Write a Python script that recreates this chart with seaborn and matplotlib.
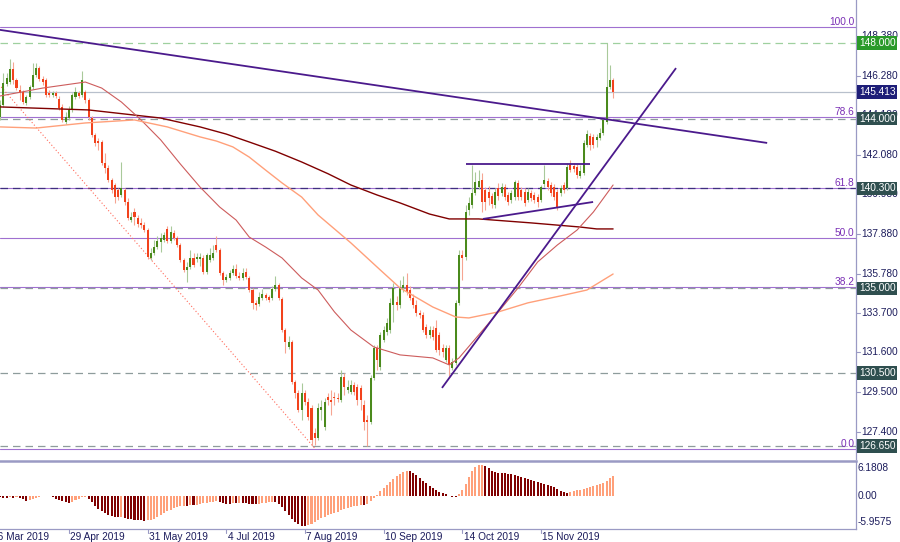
import numpy as np
import pandas as pd
import matplotlib
matplotlib.use("Agg")
import matplotlib.pyplot as plt
import seaborn as sns
from matplotlib.transforms import blended_transform_factory as blend

# ---------------- data (GBPJPY daily, 29 Mar 2019 - 17 Dec 2019) ----------------
opens = [
144.09, 144.72, 145.84, 145.94, 146.63, 146.05, 145.52, 145.41, 144.83, 145.15,
145.68, 146.31, 146.68, 146.10, 146.05, 145.36, 145.25, 145.36, 145.04, 144.62,
143.82, 144.03, 144.46, 145.15, 145.36, 145.25, 145.41, 144.99, 144.03, 143.13,
142.81, 142.76, 141.65, 141.38, 140.75, 140.48, 140.22, 139.95, 140.22, 139.58,
138.62, 139.05, 138.73, 138.46, 138.36, 138.09, 136.61, 136.87, 137.19, 137.46,
137.56, 138.15, 137.51, 137.93, 137.67, 137.30, 136.50, 135.97, 136.13, 136.61,
136.56, 136.56, 136.61, 135.87, 136.50, 136.61, 137.30, 137.03, 135.81, 135.44,
135.55, 135.81, 136.03, 135.65, 135.55, 135.87, 135.55, 134.91, 134.22, 134.17,
134.49, 134.65, 134.54, 134.49, 134.97, 135.18, 134.43, 132.79, 131.89, 132.15,
130.03, 129.45, 128.55, 129.45, 128.97, 128.66, 127.33, 127.07, 128.55, 127.65,
129.24, 129.08, 129.24, 129.19, 129.08, 130.30, 129.61, 129.50, 129.88, 129.77,
129.72, 128.81, 128.02, 127.91, 130.25, 131.84, 130.83, 132.26, 132.69, 132.79,
134.12, 134.28, 134.12, 135.02, 135.18, 134.91, 134.49, 134.12, 133.69, 133.59,
132.95, 132.53, 132.79, 132.90, 132.53, 131.84, 131.20, 131.84, 130.78, 131.04,
134.22, 136.77, 136.66, 139.15, 139.42, 140.06, 140.37, 140.75, 140.22, 140.11,
139.90, 139.42, 140.32, 140.06, 140.38, 139.95, 139.69, 139.84, 140.59, 140.22,
140.11, 139.69, 140.06, 139.95, 139.84, 139.69, 140.53, 140.69, 140.48, 140.38,
140.11, 140.06, 140.48, 140.32, 141.54, 141.49, 141.43, 140.96, 141.12, 142.60,
143.08, 143.03, 142.87, 142.97, 143.24, 143.82, 145.68, 146.05]

highs = [
144.99, 146.42, 146.42, 147.16, 147.00, 146.15, 145.78, 145.52, 145.25, 145.78,
146.95, 146.95, 146.79, 146.26, 146.15, 145.52, 145.46, 145.46, 145.20, 144.78,
144.35, 144.67, 145.36, 145.68, 145.46, 146.52, 145.52, 145.09, 144.14, 143.24,
142.97, 142.87, 142.18, 141.54, 140.85, 140.59, 140.32, 141.70, 140.32, 139.79,
139.05, 139.26, 138.89, 138.73, 138.52, 138.20, 137.14, 137.56, 137.78, 137.93,
137.99, 138.31, 138.31, 138.09, 137.78, 137.41, 136.61, 136.40, 137.03, 136.87,
136.87, 136.87, 136.77, 136.87, 137.14, 137.30, 137.78, 137.14, 135.92, 135.76,
135.97, 136.24, 136.29, 135.87, 136.08, 136.08, 135.65, 135.02, 134.38, 134.81,
134.97, 134.75, 134.65, 135.13, 135.65, 135.28, 134.54, 132.90, 132.47, 132.26,
130.14, 129.61, 129.98, 129.61, 129.19, 128.82, 127.60, 128.92, 129.08, 129.19,
129.45, 129.61, 129.50, 129.45, 130.67, 130.51, 130.14, 130.14, 130.03, 129.93,
129.88, 129.08, 128.29, 130.41, 131.99, 131.99, 132.69, 133.00, 133.43, 134.49,
135.28, 134.59, 135.44, 135.65, 135.81, 135.13, 134.70, 134.38, 133.85, 133.75,
133.11, 133.00, 133.00, 133.32, 132.69, 132.05, 131.99, 131.99, 131.31, 134.38,
137.03, 137.03, 139.42, 139.84, 141.54, 141.17, 141.28, 141.12, 140.38, 140.43,
140.06, 140.32, 140.59, 140.59, 140.53, 140.11, 140.22, 140.75, 140.75, 140.38,
140.32, 140.32, 140.22, 140.11, 140.00, 140.48, 141.54, 140.85, 140.64, 140.53,
140.27, 140.48, 140.64, 141.65, 141.81, 141.65, 141.59, 141.54, 142.87, 143.40,
143.24, 143.18, 143.18, 143.50, 144.03, 148.00, 146.84, 146.15]

lows = [
143.93, 144.62, 145.73, 145.84, 145.84, 145.52, 144.99, 144.78, 144.72, 145.04,
145.57, 146.21, 145.99, 145.78, 145.15, 145.15, 145.15, 145.09, 144.46, 143.82,
143.71, 143.93, 144.35, 145.04, 145.09, 145.15, 144.83, 143.93, 143.03, 142.55,
142.34, 141.54, 141.12, 140.64, 140.06, 139.53, 139.69, 139.84, 139.42, 138.62,
138.52, 138.36, 138.25, 138.20, 137.99, 136.56, 136.50, 136.77, 137.09, 136.93,
137.46, 137.41, 137.41, 137.56, 137.19, 136.40, 135.87, 135.34, 136.03, 136.13,
136.40, 136.19, 135.76, 135.76, 136.40, 136.50, 136.93, 135.71, 135.18, 135.34,
135.44, 135.71, 135.55, 135.44, 135.44, 135.50, 134.81, 133.91, 133.85, 134.06,
134.38, 134.38, 134.28, 134.38, 134.86, 134.38, 132.69, 131.57, 131.78, 129.93,
129.19, 128.44, 128.02, 128.81, 128.02, 126.64, 126.69, 126.96, 128.02, 127.49,
128.81, 128.29, 128.81, 128.97, 128.97, 129.35, 129.45, 129.40, 129.35, 128.81,
128.55, 127.49, 126.65, 127.81, 130.14, 130.67, 130.67, 132.16, 132.53, 132.63,
133.22, 133.85, 133.96, 134.81, 134.65, 134.38, 133.96, 133.53, 133.43, 132.69,
132.37, 132.37, 132.26, 131.63, 131.47, 131.36, 131.09, 130.35, 130.67, 130.94,
134.12, 135.44, 136.50, 138.89, 139.26, 139.95, 140.27, 139.05, 139.15, 139.42,
139.26, 139.26, 139.69, 139.90, 139.69, 139.42, 139.53, 139.69, 139.69, 139.69,
139.37, 139.58, 139.63, 139.53, 139.31, 139.58, 140.38, 140.22, 139.90, 139.69,
139.15, 139.90, 140.06, 140.22, 141.17, 141.17, 140.85, 140.85, 141.01, 142.50,
142.34, 142.44, 142.50, 142.87, 143.13, 143.71, 145.57, 145.09]

closes = [
144.72, 145.89, 146.15, 146.63, 146.05, 145.62, 145.36, 144.88, 145.15, 145.68,
146.31, 146.68, 146.10, 145.94, 145.25, 145.25, 145.36, 145.20, 144.56, 143.93,
144.09, 144.46, 145.25, 145.41, 145.20, 146.05, 144.99, 144.09, 143.13, 142.71,
142.71, 141.65, 141.38, 140.75, 140.22, 139.84, 139.84, 140.32, 139.58, 138.73,
138.78, 138.78, 138.41, 138.36, 138.09, 136.66, 136.87, 137.19, 137.51, 137.67,
137.83, 137.51, 137.99, 137.67, 137.30, 136.50, 135.97, 136.13, 136.61, 136.24,
136.66, 136.66, 135.87, 136.77, 136.77, 136.87, 137.03, 135.81, 135.44, 135.60,
135.81, 136.03, 135.65, 135.55, 135.81, 135.60, 134.91, 134.22, 134.12, 134.54,
134.70, 134.49, 134.38, 134.97, 135.18, 134.49, 132.79, 132.15, 132.15, 130.03,
129.45, 128.55, 129.45, 128.97, 128.18, 126.96, 127.07, 128.66, 128.71, 128.97,
129.08, 128.97, 129.19, 129.13, 130.30, 129.77, 129.77, 129.88, 129.50, 129.08,
129.08, 127.91, 127.91, 130.25, 131.84, 131.20, 132.53, 132.79, 133.16, 134.22,
135.02, 134.12, 135.07, 135.18, 134.81, 134.49, 134.12, 133.69, 133.59, 132.79,
132.53, 132.79, 132.42, 131.73, 131.73, 131.63, 131.84, 130.94, 131.10, 134.22,
136.77, 136.61, 139.05, 139.53, 140.06, 140.64, 140.69, 139.58, 139.58, 139.79,
139.47, 140.11, 139.90, 140.38, 139.84, 139.58, 140.06, 140.64, 139.84, 139.84,
139.53, 140.11, 139.79, 139.69, 139.58, 140.38, 140.75, 140.38, 140.06, 139.84,
139.31, 140.32, 140.22, 141.43, 141.28, 141.33, 141.01, 141.22, 142.71, 143.18,
142.60, 142.60, 143.03, 143.24, 143.93, 145.68, 146.05, 145.413]

osma = [
-0.2, -0.3, -0.3, -0.2, -0.3, -0.2, -0.4, -0.6, -0.9, -0.8, -0.6, -0.4, -0.2,
0.0, 0.1, 0.0, -0.2, -0.5, -0.8, -1.0, -1.2, -1.3, -1.1, -0.8, -0.5, -0.2, -0.1,
-0.5, -1.2, -1.9, -2.5, -3.0, -3.4, -3.8, -4.0, -4.1,
-4.2, -4.1, -4.3, -4.5, -4.6, -4.7, -4.8, -4.8, -4.9, -4.8, -4.7, -4.5, -4.2,
-3.8, -3.4, -3.0, -2.7, -2.4, -2.2, -2.0, -1.9,
-1.9, -1.8, -1.8, -1.7, -1.5, -1.4, -1.3, -1.2, -1.1, -1.0,
-1.1, -1.3, -1.5, -1.5, -1.4, -1.4, -1.3, -1.3,
-1.4, -1.5, -1.6, -1.6, -1.5, -1.4, -1.3, -1.2, -1.1, -1.1,
-1.5, -2.2, -3.0, -3.7, -4.5, -5.2, -5.6, -5.9, -5.9575,
-5.8, -5.5, -5.2, -4.8, -4.4, -4.1,
-3.8, -3.5, -3.3, -3.1, -2.8, -2.6, -2.4, -2.2, -2.0, -1.9, -1.8, -1.8,
-1.5, -1.0, -0.4, 0.2,
0.9, 1.6, 2.2, 2.8, 3.4, 3.9, 4.4, 4.8, 5.0,
4.9, 4.6, 4.1, 3.5, 3.0, 2.5, 2.0, 1.6, 1.2, 0.8, 0.5, 0.3, 0.0, -0.2, -0.2,
0.4, 1.2, 2.4, 3.7, 4.9, 5.7, 6.1, 6.1808, 5.9, 5.5, 5.0,
4.7, 4.6, 4.5, 4.5, 4.4, 4.3, 4.2, 4.0, 3.8, 3.6, 3.4, 3.1, 2.9, 2.8, 2.5, 2.4, 2.2, 2.0, 1.7, 1.4,
1.0, 0.8, 0.6, 0.8, 0.9, 1.1, 1.2, 1.4, 1.5, 1.8, 2.0, 2.2, 2.4, 2.5, 3.0, 3.6, 4.0]

# moving averages read at sample bars
ma_slow_bar = [0, 27, 49, 61, 69, 76, 84, 92, 100, 107, 115, 122, 131, 137, 146, 162, 177, 182, 187]
ma_slow_val = [144.62, 144.46, 144.03, 143.56, 143.18, 142.76, 142.27, 141.70, 141.08, 140.48,
               139.95, 139.53, 138.94, 138.68, 138.68, 138.47, 138.25, 138.15, 138.15]
ma_mid_bar = [0, 13, 26, 31, 37, 43, 49, 55, 61, 67, 72, 76, 81, 86, 92, 97, 102, 107,
              114, 122, 132, 137, 140, 146, 152, 158, 164, 170, 176, 181, 187]
ma_mid_val = [145.20, 145.62, 145.94, 145.62, 144.88, 143.93, 142.87, 141.59, 140.37,
              139.31, 138.62, 137.72, 137.19, 136.61, 135.55, 134.91, 133.75, 132.79,
              131.89, 131.47, 131.31, 130.94, 131.31, 132.53, 133.75, 135.02, 136.40,
              137.30, 138.09, 139.05, 140.48]
ma_fast_bar = [0, 11, 26, 41, 51, 61, 66, 71, 76, 81, 86, 92, 97, 107, 116, 122, 132, 139,
               143, 152, 161, 171, 179, 187]
ma_fast_val = [143.56, 143.50, 143.77, 143.93, 143.56, 143.03, 142.81, 142.50, 141.96,
               141.27, 140.59, 139.84, 138.89, 137.41, 135.97, 135.02, 134.01, 133.48,
               133.43, 133.75, 134.23, 134.60, 134.91, 135.76]

fib_low, fib_high = 126.50, 148.87
fib_levels = [0.0, 38.2, 50.0, 61.8, 78.6, 100.0]
h_levels = [148.000, 144.000, 140.300, 135.000, 130.500, 126.650]
last_price = 145.413
price_ticks = [148.380, 146.280, 144.180, 142.080, 139.980, 137.880, 135.780,
               133.700, 131.600, 129.500, 127.400]
osma_ticks = [6.1808, 0.00, -5.9575]
osma_tick_text = ["6.1808", "0.00", "-5.9575"]
date_ticks = ["2019-03-26", "2019-04-29", "2019-05-31", "2019-07-04", "2019-08-07",
              "2019-09-10", "2019-10-14", "2019-11-15"]
date_labels = ["26 Mar 2019", "29 Apr 2019", "31 May 2019", "4 Jul 2019", "7 Aug 2019",
               "10 Sep 2019", "14 Oct 2019", "15 Nov 2019"]
start_date = "2019-03-29"

# trend lines (bar index, price)
trend_down = ([-1, 234.0], [148.73, 142.71])
trend_up = ([134.8, 206.2], [129.72, 146.68])
flag_top = ([142.1, 180.0], [141.59, 141.59])
flag_bot = ([147.3, 180.9], [138.68, 139.58])
fib_diag = ([-15.6, 96.1], [148.87, 126.50])

n = len(closes)
assert len(opens) == n and len(highs) == n and len(lows) == n and len(osma) == n
idx = np.arange(n)

# ---------------- styling ----------------
sns.set_theme(style="white")
plt.rcParams["font.family"] = ["Liberation Sans", "DejaVu Sans"]
W, H = 900, 542
FS = 7.3
TXT = "#1c1c5c"
AX = "#9a9ac4"

fig = plt.figure(figsize=(9, 5.42), dpi=100)
fig.patch.set_facecolor("white")
ax = fig.add_axes([0, 1 - 459 / H, 856 / W, 459 / H])
ax2 = fig.add_axes([0, 1 - 529 / H, 856 / W, 68 / H])
XL = (-0.03, 261.1)
YL = (125.95, 150.29)
for a in (ax, ax2):
    a.set_facecolor("white")
    a.set_xticks([])
    a.set_yticks([])
    for s in a.spines.values():
        s.set_visible(False)
ax.spines["right"].set_visible(True)
ax.spines["right"].set_color(AX)
ax.spines["right"].set_linewidth(0.9)
for s, lw in (("right", 0.9), ("top", 1.8), ("bottom", 0.9)):
    ax2.spines[s].set_visible(True)
    ax2.spines[s].set_color(AX)
    ax2.spines[s].set_linewidth(lw)

# ---------------- horizontal levels ----------------
fib_color = "#a070d0"
for lv in fib_levels:
    p = fib_low + (fib_high - fib_low) * lv / 100.0
    ax.axhline(p, color=fib_color, lw=0.8, zorder=1)
    ax.text(1 - 1.5 / 856, p, f"{lv:.1f}", transform=blend(ax.transAxes, ax.transData),
            ha="right", va="bottom", fontsize=FS, color="#7a2fb5", zorder=6)
lvl_colors = {148.000: "#9fd09f", 140.300: "#3f2f80"}
for p in h_levels:
    ax.axhline(p, color=lvl_colors.get(p, "#8e9c9c"), lw=0.9, ls=(0, (6, 4)), zorder=2)
ax.axhline(last_price, color="#b8c0cc", lw=0.9, zorder=2)
ax.plot(fib_diag[0], fib_diag[1], color="#ff6a5a", lw=0.8, ls=(0, (1, 2)), zorder=2)

# ---------------- candles ----------------
o = np.array(opens); c = np.array(closes); hi = np.array(highs); lo = np.array(lows)
up = c >= o
wick_cols = np.where(up, "#a9c99a", "#f6a592")
body_cols = np.where(up, "#4a8a1c", "#f2421c")
ax.vlines(idx, lo, hi, colors=wick_cols, lw=0.8, zorder=3)
bh = c - o
bh = np.where(np.abs(bh) < 0.05, np.where(up, 0.05, -0.05), bh)
ax.bar(idx, bh, bottom=o, width=0.62, color=body_cols, linewidth=0, zorder=4)

# ---------------- moving averages (seaborn) ----------------
for bars, vals, col, lw in ((ma_slow_bar, ma_slow_val, "#800000", 1.0),
                            (ma_mid_bar, ma_mid_val, "#cd5c5c", 0.8),
                            (ma_fast_bar, ma_fast_val, "#ffa07a", 1.0)):
    df = pd.DataFrame({"bar": bars, "price": vals})
    sns.lineplot(data=df, x="bar", y="price", ax=ax, color=col, lw=lw, zorder=5,
                 estimator=None, sort=False)
ax.set_xlabel(""); ax.set_ylabel("")

# ---------------- trend lines ----------------
for xs, ys in (trend_down, trend_up, flag_top, flag_bot):
    ax.plot(xs, ys, color="#4b1a8c", lw=1.3, zorder=6, solid_capstyle="butt")
ax.set_xlim(*XL); ax.set_ylim(*YL)

# ---------------- OsMA histogram ----------------
v = np.array(osma)
rising = np.concatenate([[False], np.diff(v) > 0])
hcols = np.where(rising, "#ffa07a", "#800000")
ax2.bar(idx, v, width=0.62, color=hcols, linewidth=0, zorder=3)
ax2.set_xlim(*XL)
ax2.set_ylim(-6.57, 6.97)

# ---------------- right axis labels ----------------
tr = blend(ax.transAxes, ax.transData)
for p in price_ticks:
    ax.plot([1.0, 1.0 + 4 / 856], [p, p], color=AX, lw=0.8, transform=tr, clip_on=False)
    ax.text(1 + 5 / 856, p, f"{p:.3f}", transform=tr, ha="left", va="center",
            fontsize=FS, color=TXT, clip_on=False, zorder=7)
box_cols = {148.000: "#2a9a2a", 145.413: "#1e1e78"}
for p in h_levels + [last_price]:
    ax.text(1 + 3 / 856, p, f"{p:.3f}", transform=tr, ha="left", va="center",
            fontsize=FS, color="white", clip_on=False, zorder=9,
            bbox=dict(boxstyle="square,pad=0.18", fc=box_cols.get(p, "#2f4f4f"), ec="none"))

tr2 = blend(ax2.transAxes, ax2.transData)
for val, t, dy in zip(osma_ticks, osma_tick_text, (-2.5, 0, 2.5)):
    ax2.annotate(t, xy=(1 + 2 / 856, val), xycoords=tr2, xytext=(0, dy),
                 textcoords="offset points", ha="left", va="center", fontsize=FS,
                 color=TXT, annotation_clip=False)

# ---------------- date axis ----------------
trd = blend(ax2.transData, fig.transFigure)
trt = blend(ax2.transData, ax2.transAxes)
for d, lab in zip(date_ticks, date_labels):
    j = int(np.busday_count(start_date, d)) if d >= start_date else -int(np.busday_count(d, start_date))
    ax2.plot([j, j], [0, -4 / 68], color=AX, lw=0.8, transform=trt, clip_on=False)
    ax2.text(j + 0.4, 1 - 537 / H, lab, transform=trd, ha="left", va="center",
             fontsize=FS, color=TXT, clip_on=False)

fig.savefig("out.png", dpi=100, facecolor="white")
